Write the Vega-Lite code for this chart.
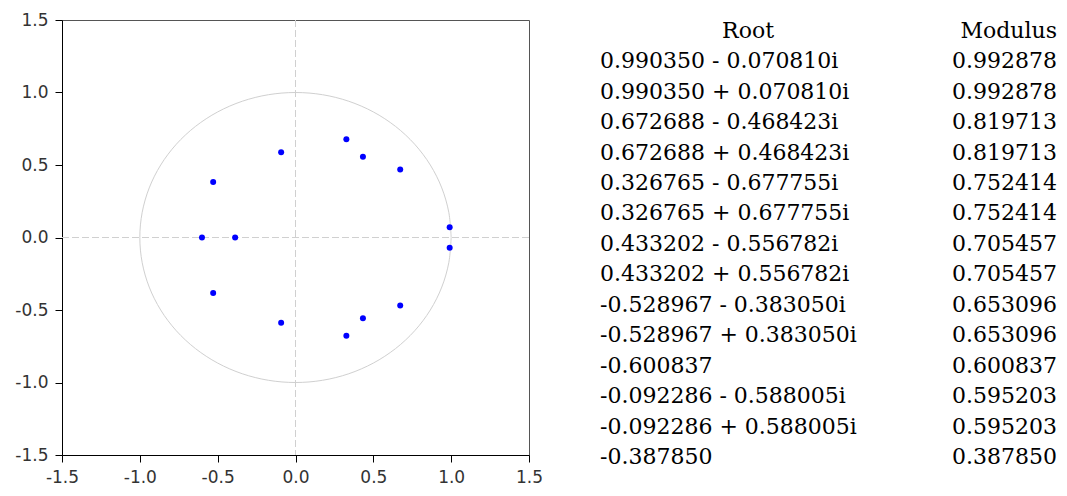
{
  "$schema": "https://vega.github.io/schema/vega-lite/v6.json",
  "background": "white",
  "padding": {"left": 14, "top": 10, "right": 5, "bottom": 5},
  "bounds": "flush",
  "spacing": 71,
  "config": {
    "view": {"stroke": "#555555", "strokeWidth": 1},
    "axis": {
      "domainColor": "black",
      "tickColor": "black",
      "tickSize": 7,
      "labelPadding": 7,
      "labelFont": "DejaVu Sans",
      "labelFontSize": 17,
      "labelColor": "#333333",
      "grid": false,
      "title": null,
      "labelFlush": false,
      "labelOverlap": false
    }
  },
  "datasets": {
    "roots": [
      {"i": 1, "root": "0.990350 - 0.070810i", "modulus": "0.992878", "re": 0.99035, "im": -0.07081},
      {"i": 2, "root": "0.990350 + 0.070810i", "modulus": "0.992878", "re": 0.99035, "im": 0.07081},
      {"i": 3, "root": "0.672688 - 0.468423i", "modulus": "0.819713", "re": 0.672688, "im": -0.468423},
      {"i": 4, "root": "0.672688 + 0.468423i", "modulus": "0.819713", "re": 0.672688, "im": 0.468423},
      {"i": 5, "root": "0.326765 - 0.677755i", "modulus": "0.752414", "re": 0.326765, "im": -0.677755},
      {"i": 6, "root": "0.326765 + 0.677755i", "modulus": "0.752414", "re": 0.326765, "im": 0.677755},
      {"i": 7, "root": "0.433202 - 0.556782i", "modulus": "0.705457", "re": 0.433202, "im": -0.556782},
      {"i": 8, "root": "0.433202 + 0.556782i", "modulus": "0.705457", "re": 0.433202, "im": 0.556782},
      {"i": 9, "root": "-0.528967 - 0.383050i", "modulus": "0.653096", "re": -0.528967, "im": -0.38305},
      {"i": 10, "root": "-0.528967 + 0.383050i", "modulus": "0.653096", "re": -0.528967, "im": 0.38305},
      {"i": 11, "root": "-0.600837", "modulus": "0.600837", "re": -0.600837, "im": 0},
      {"i": 12, "root": "-0.092286 - 0.588005i", "modulus": "0.595203", "re": -0.092286, "im": -0.588005},
      {"i": 13, "root": "-0.092286 + 0.588005i", "modulus": "0.595203", "re": -0.092286, "im": 0.588005},
      {"i": 14, "root": "-0.387850", "modulus": "0.387850", "re": -0.38785, "im": 0}
    ],
    "circle": [
      {"a": 0, "x": 1, "y": 0}, {"a": 10, "x": 0.9848, "y": 0.1736}, {"a": 20, "x": 0.9397, "y": 0.342},
      {"a": 30, "x": 0.866, "y": 0.5}, {"a": 40, "x": 0.766, "y": 0.6428}, {"a": 50, "x": 0.6428, "y": 0.766},
      {"a": 60, "x": 0.5, "y": 0.866}, {"a": 70, "x": 0.342, "y": 0.9397}, {"a": 80, "x": 0.1736, "y": 0.9848},
      {"a": 90, "x": 0, "y": 1}, {"a": 100, "x": -0.1736, "y": 0.9848}, {"a": 110, "x": -0.342, "y": 0.9397},
      {"a": 120, "x": -0.5, "y": 0.866}, {"a": 130, "x": -0.6428, "y": 0.766}, {"a": 140, "x": -0.766, "y": 0.6428},
      {"a": 150, "x": -0.866, "y": 0.5}, {"a": 160, "x": -0.9397, "y": 0.342}, {"a": 170, "x": -0.9848, "y": 0.1736},
      {"a": 180, "x": -1, "y": 0}, {"a": 190, "x": -0.9848, "y": -0.1736}, {"a": 200, "x": -0.9397, "y": -0.342},
      {"a": 210, "x": -0.866, "y": -0.5}, {"a": 220, "x": -0.766, "y": -0.6428}, {"a": 230, "x": -0.6428, "y": -0.766},
      {"a": 240, "x": -0.5, "y": -0.866}, {"a": 250, "x": -0.342, "y": -0.9397}, {"a": 260, "x": -0.1736, "y": -0.9848},
      {"a": 270, "x": 0, "y": -1}, {"a": 280, "x": 0.1736, "y": -0.9848}, {"a": 290, "x": 0.342, "y": -0.9397},
      {"a": 300, "x": 0.5, "y": -0.866}, {"a": 310, "x": 0.6428, "y": -0.766}, {"a": 320, "x": 0.766, "y": -0.6428},
      {"a": 330, "x": 0.866, "y": -0.5}, {"a": 340, "x": 0.9397, "y": -0.342}, {"a": 350, "x": 0.9848, "y": -0.1736},
      {"a": 360, "x": 1, "y": 0}
    ],
    "zero": [{"v": 0}],
    "hroot": [{"h": "Root"}],
    "hmod": [{"h": "Modulus"}]
  },
  "hconcat": [
    {
      "width": 467,
      "height": 435,
      "layer": [
        {
          "data": {"name": "circle"},
          "mark": {"type": "line", "stroke": "#d0d0d0", "strokeWidth": 1, "interpolate": "catmull-rom"},
          "encoding": {
            "x": {"field": "x", "type": "quantitative", "scale": {"domain": [-1.5, 1.5], "nice": false, "zero": false}, "axis": {"values": [-1.5, -1, -0.5, 0, 0.5, 1, 1.5], "labelExpr": "replace(format(datum.value, '.1f'), '\u2212', '-')"}},
            "y": {"field": "y", "type": "quantitative", "scale": {"domain": [-1.5, 1.5], "nice": false, "zero": false}, "axis": {"values": [-1.5, -1, -0.5, 0, 0.5, 1, 1.5], "labelExpr": "replace(format(datum.value, '.1f'), '\u2212', '-')"}},
            "order": {"field": "a", "type": "quantitative"}
          }
        },
        {
          "data": {"name": "zero"},
          "mark": {"type": "rule", "stroke": "#d0d0d0", "strokeWidth": 1, "strokeDash": [7, 3]},
          "encoding": {"x": {"field": "v", "type": "quantitative"}}
        },
        {
          "data": {"name": "zero"},
          "mark": {"type": "rule", "stroke": "#d0d0d0", "strokeWidth": 1, "strokeDash": [7, 3]},
          "encoding": {"y": {"field": "v", "type": "quantitative"}}
        },
        {
          "data": {"name": "roots"},
          "mark": {"type": "point", "filled": true, "shape": "circle", "size": 36, "color": "#0000ff", "opacity": 1},
          "encoding": {
            "x": {"field": "re", "type": "quantitative"},
            "y": {"field": "im", "type": "quantitative"}
          }
        }
      ]
    },
    {
      "width": 457,
      "height": 435,
      "view": {"stroke": null},
      "layer": [
        {
          "data": {"name": "hroot"},
          "mark": {"type": "text", "font": "DejaVu Serif", "fontSize": 22, "color": "black", "align": "center", "baseline": "middle"},
          "encoding": {
            "x": {"datum": 0.324, "type": "quantitative", "scale": {"domain": [0, 1], "nice": false, "zero": false}, "axis": null},
            "y": {"datum": 0, "type": "quantitative", "scale": {"domain": [-0.35, 13.93], "nice": false, "zero": false, "reverse": true}, "axis": null},
            "text": {"field": "h"}
          }
        },
        {
          "data": {"name": "hmod"},
          "mark": {"type": "text", "font": "DejaVu Serif", "fontSize": 22, "color": "black", "align": "right", "baseline": "middle"},
          "encoding": {
            "x": {"datum": 1, "type": "quantitative", "axis": null},
            "y": {"datum": 0, "type": "quantitative", "axis": null},
            "text": {"field": "h"}
          }
        },
        {
          "data": {"name": "roots"},
          "mark": {"type": "text", "font": "DejaVu Serif", "fontSize": 22, "color": "black", "align": "left", "baseline": "middle"},
          "encoding": {
            "x": {"datum": 0, "type": "quantitative", "axis": null},
            "y": {"field": "i", "type": "quantitative", "axis": null},
            "text": {"field": "root"}
          }
        },
        {
          "data": {"name": "roots"},
          "mark": {"type": "text", "font": "DejaVu Serif", "fontSize": 22, "color": "black", "align": "right", "baseline": "middle"},
          "encoding": {
            "x": {"datum": 1, "type": "quantitative", "axis": null},
            "y": {"field": "i", "type": "quantitative", "axis": null},
            "text": {"field": "modulus"}
          }
        }
      ]
    }
  ]
}
